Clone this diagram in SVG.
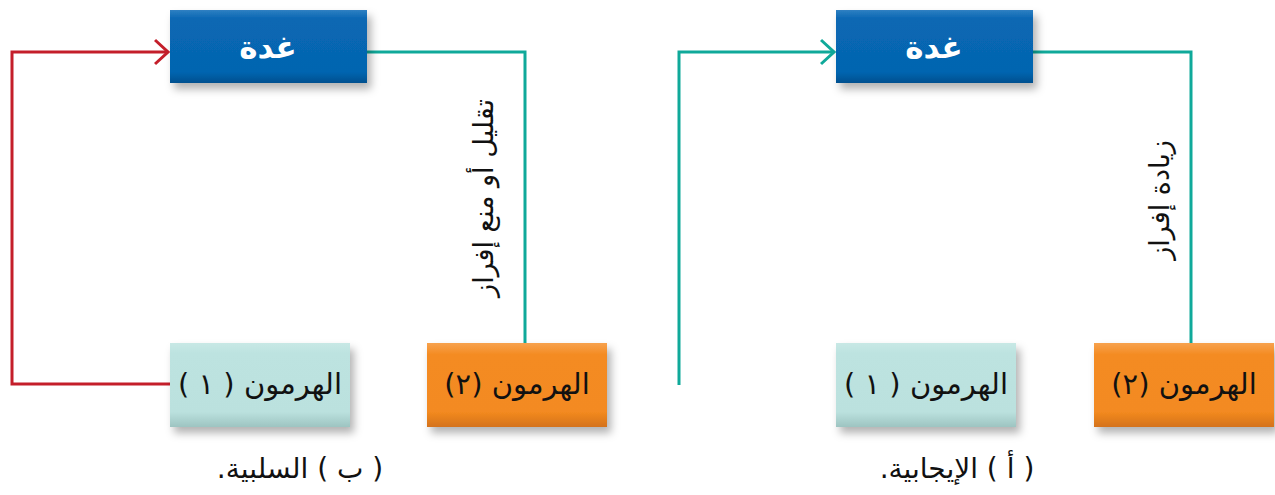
<svg xmlns="http://www.w3.org/2000/svg" width="1275" height="495" viewBox="0 0 1275 495">
  <defs>
    <linearGradient id="gBlue" x1="0" y1="0" x2="0" y2="1">
      <stop offset="0" stop-color="#2F80C2"/>
      <stop offset="0.12" stop-color="#0867B3"/>
      <stop offset="0.85" stop-color="#0565B0"/>
      <stop offset="1" stop-color="#00508F"/>
    </linearGradient>
    <linearGradient id="gTeal" x1="0" y1="0" x2="0" y2="1">
      <stop offset="0" stop-color="#C8E8E5"/>
      <stop offset="0.12" stop-color="#BDE3E0"/>
      <stop offset="0.82" stop-color="#BBE1DE"/>
      <stop offset="1" stop-color="#9DC4C1"/>
    </linearGradient>
    <linearGradient id="gOrange" x1="0" y1="0" x2="0" y2="1">
      <stop offset="0" stop-color="#F7A24E"/>
      <stop offset="0.14" stop-color="#F48B22"/>
      <stop offset="0.82" stop-color="#F38A20"/>
      <stop offset="1" stop-color="#D4721A"/>
    </linearGradient>
    <filter id="shadow" x="-10%" y="-10%" width="125%" height="135%">
      <feDropShadow dx="4" dy="6" stdDeviation="4" flood-color="#000" flood-opacity="0.3"/>
    </filter>
    <marker id="arrRed" markerUnits="userSpaceOnUse" markerWidth="16" markerHeight="28" refX="14" refY="13" orient="auto" viewBox="0 0 16 26">
      <path d="M1,1 L14,13 L1,25" fill="none" stroke="#C41E2A" stroke-width="3"/>
    </marker>
    <marker id="arrTeal" markerUnits="userSpaceOnUse" markerWidth="16" markerHeight="28" refX="14" refY="13" orient="auto" viewBox="0 0 16 26">
      <path d="M1,1 L14,13 L1,25" fill="none" stroke="#0FA99A" stroke-width="3"/>
    </marker>
    <style>
      .gland { fill: url(#gBlue); filter: url(#shadow); }
      .h1 { fill: url(#gTeal); filter: url(#shadow); }
      .h2 { fill: url(#gOrange); filter: url(#shadow); }
      .gt { font-family: "DejaVu Sans", sans-serif; font-weight: bold; font-size: 31px; fill: #ffffff; text-anchor: middle; direction: rtl; }
      .ht { font-family: "DejaVu Sans", sans-serif; font-size: 29px; fill: #111111; text-anchor: middle; direction: rtl; }
      .vt { font-family: "DejaVu Sans", sans-serif; font-size: 27px; fill: #111111; text-anchor: middle; direction: rtl; }
      .cap { font-family: "DejaVu Sans", sans-serif; font-size: 28px; fill: #111111; text-anchor: middle; direction: rtl; }
      .red { fill: none; stroke: #C41E2A; stroke-width: 3; }
      .teal { fill: none; stroke: #0FA99A; stroke-width: 3; }
    </style>
  </defs>
  <rect width="1275" height="495" fill="#ffffff"/>

  <g id="connectors">
    <path class="red" d="M170,384 L12,384 L12,52 L168,52" marker-end="url(#arrRed)"/>
    <path class="teal" d="M367,52 L525,52 L525,343"/>
    <path class="teal" d="M679,385 L679,52 L834,52" marker-end="url(#arrTeal)"/>
    <path class="teal" d="M1033,52 L1191,52 L1191,343"/>
  </g>

  <g id="gland-b">
    <rect class="gland" x="170" y="10" width="197" height="73"/>
    <text class="gt" x="268" y="58">غدة</text>
  </g>
  <g id="hormone1-b">
    <rect class="h1" x="170" y="343" width="180" height="84"/>
    <text class="ht" x="260" y="394">الهرمون ( ١ )</text>
  </g>
  <g id="hormone2-b">
    <rect class="h2" x="427" y="343" width="180" height="84"/>
    <text class="ht" x="517" y="394">الهرمون (٢)</text>
  </g>
  <g id="label-b">
    <text class="vt" transform="translate(493,198) rotate(-90)">تقليل أو منع إفراز</text>
  </g>
  <g id="caption-b">
    <text class="cap" x="300" y="478">( ب ) السلبية.</text>
  </g>

  <g id="gland-a">
    <rect class="gland" x="836" y="10" width="197" height="73"/>
    <text class="gt" x="934" y="58">غدة</text>
  </g>
  <g id="hormone1-a">
    <rect class="h1" x="836" y="343" width="180" height="84"/>
    <text class="ht" x="926" y="394">الهرمون ( ١ )</text>
  </g>
  <g id="hormone2-a">
    <rect class="h2" x="1094" y="343" width="180" height="84"/>
    <text class="ht" x="1184" y="394">الهرمون (٢)</text>
  </g>
  <g id="label-a">
    <text class="vt" transform="translate(1169,200) rotate(-90)">زيادة إفراز</text>
  </g>
  <g id="caption-a">
    <text class="cap" x="957" y="478">( أ ) الإيجابية.</text>
  </g>
</svg>
